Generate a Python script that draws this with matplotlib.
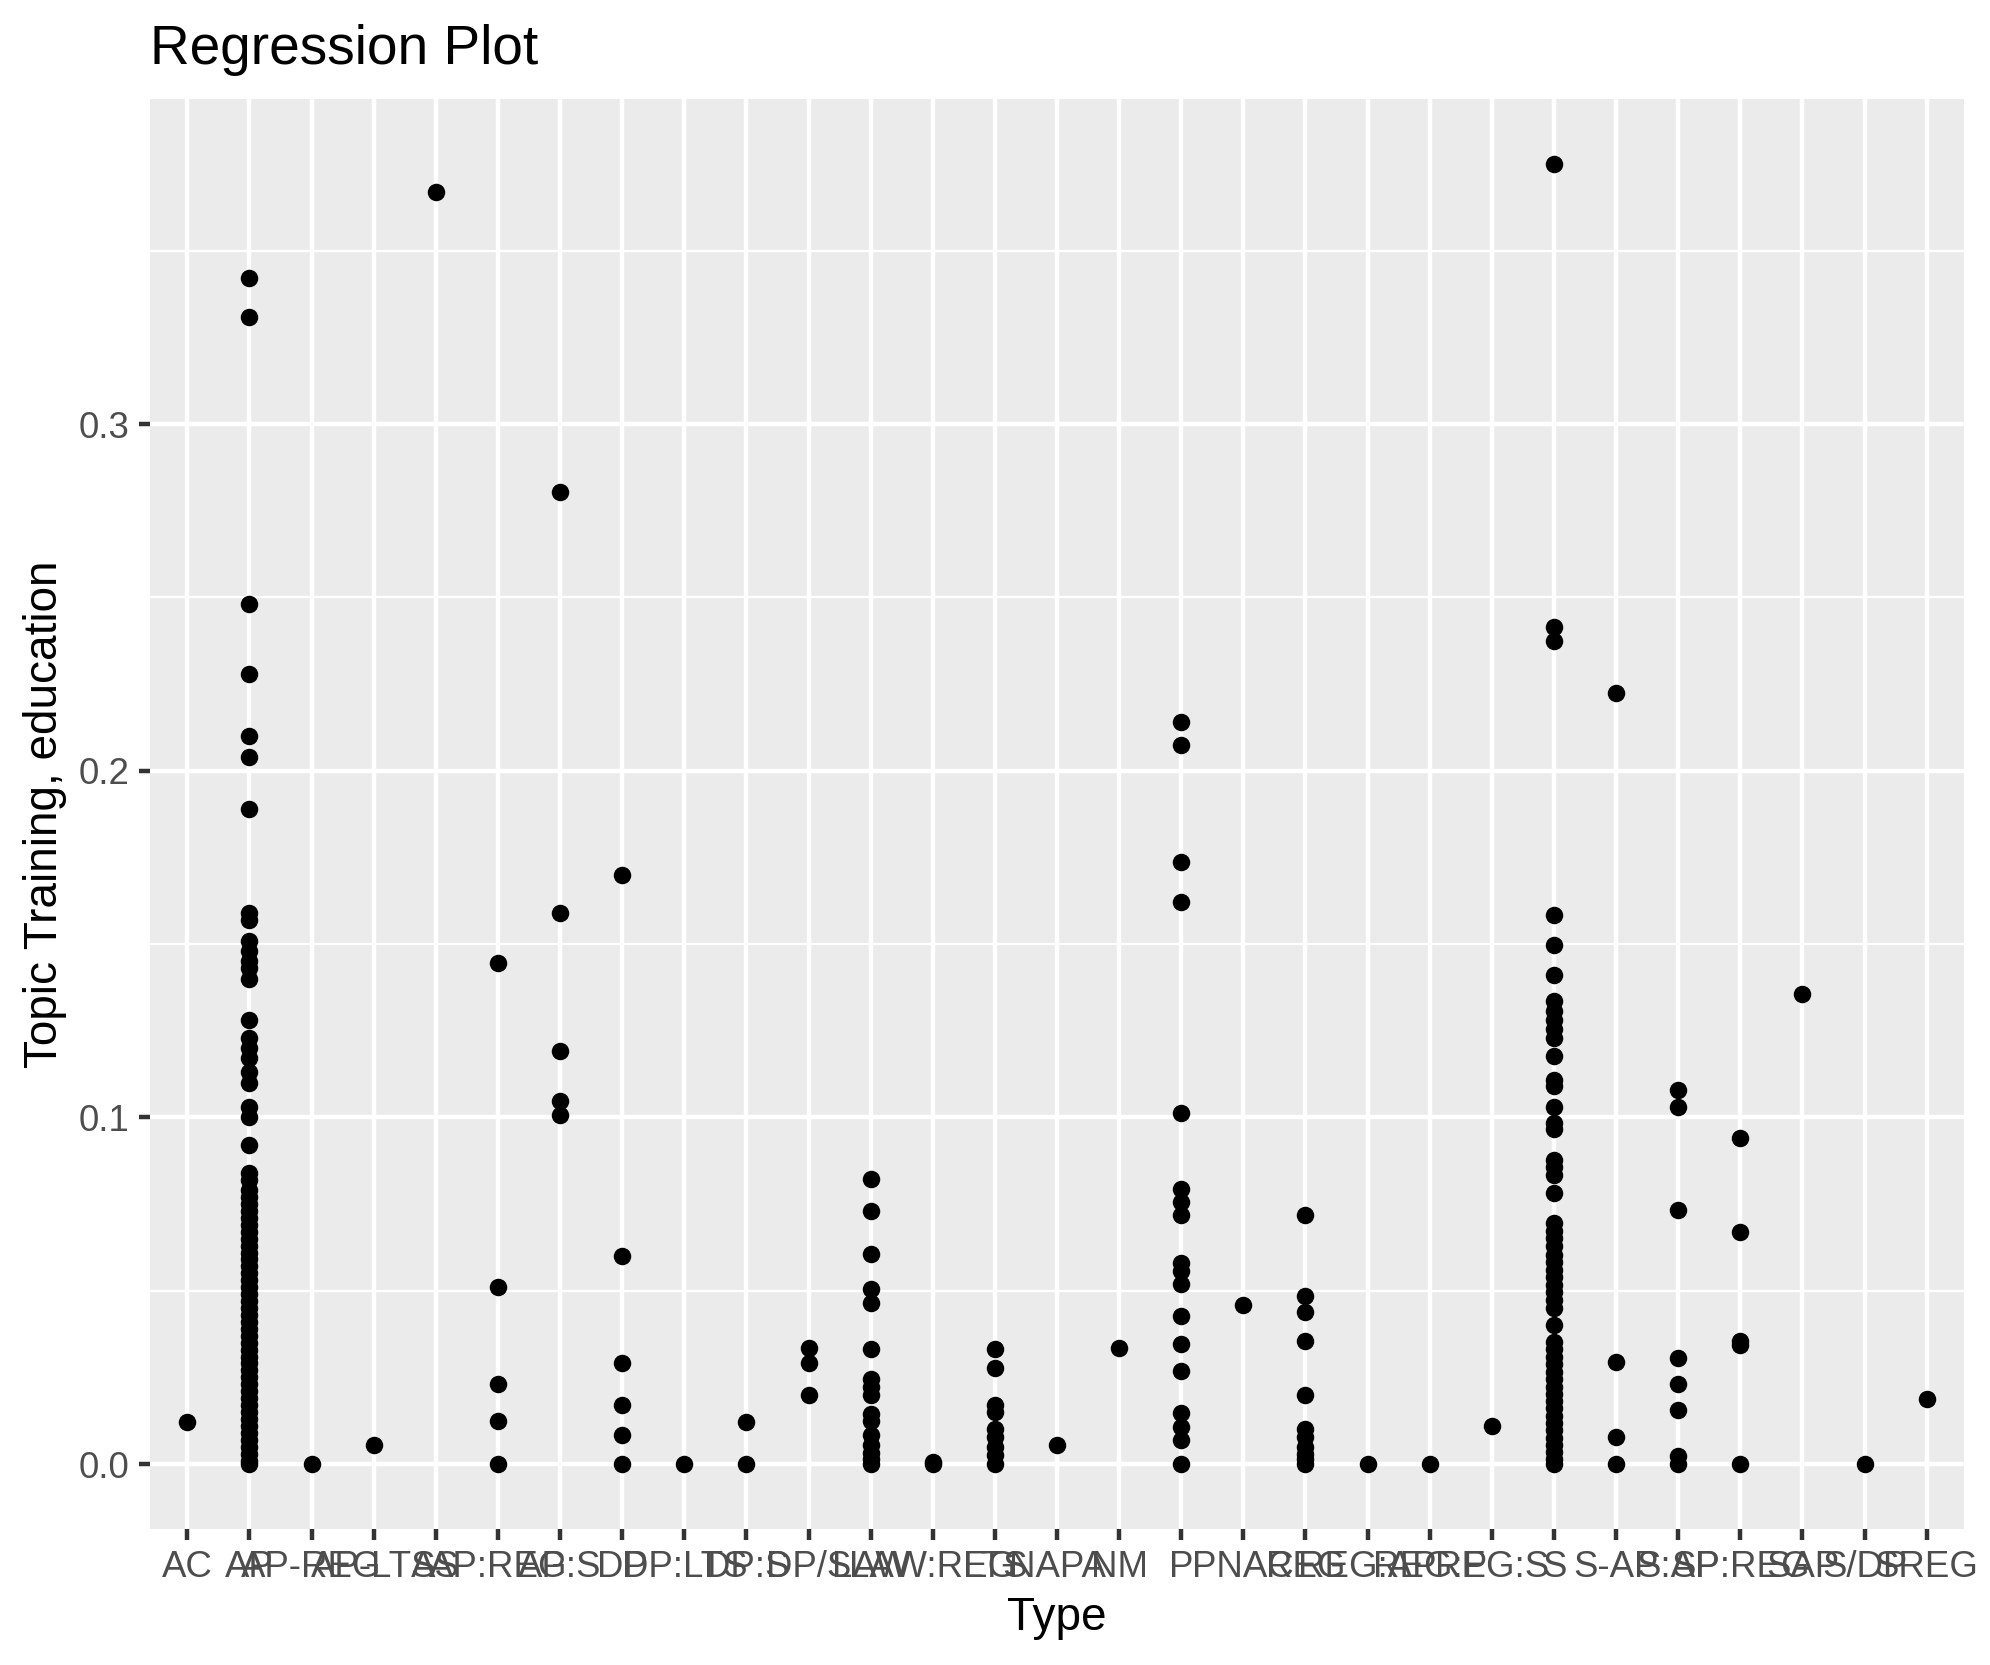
import matplotlib.pyplot as plt
from matplotlib.ticker import MultipleLocator

plt.rcParams['font.family'] = ['Liberation Sans', 'DejaVu Sans']

# factor levels of "Type", in plotting order
types = ["AC", "AP", "AP-REG", "AP-LTS", "AS", "AP:REG", "AP:S", "DP", "DP:LTS",
         "DP:S", "DP/S", "LAW", "LAW:REG", "LTS", "NAPA", "NM", "P", "PNAC", "REG",
         "REG:AP", "REG:P", "REG:S", "S", "S-AP", "S:AP", "SP:REG", "SAP", "S/DP", "SREG"]

# topic share per document
ac = [0.012]
ap = [0.342, 0.331, 0.248, 0.228, 0.210, 0.204, 0.189, 0.159, 0.157, 0.151, 0.148,
      0.145, 0.143, 0.140, 0.128, 0.123, 0.120, 0.117, 0.113, 0.110, 0.103, 0.100,
      0.092, 0.084, 0.082, 0.079, 0.077, 0.075, 0.073, 0.071, 0.069, 0.067, 0.065,
      0.063, 0.061, 0.059, 0.057, 0.055, 0.053, 0.051, 0.049, 0.047, 0.045, 0.043,
      0.041, 0.039, 0.037, 0.035, 0.033, 0.031, 0.029, 0.027, 0.025, 0.023, 0.021,
      0.019, 0.017, 0.015, 0.013, 0.011, 0.009, 0.007, 0.005, 0.003, 0.001, 0.0]
ap_reg = [0.0]
ap_lts = [0.0055]
as_ = [0.367]
ap_reg2 = [0.1445, 0.051, 0.023, 0.0124, 0.0]
ap_s = [0.2805, 0.159, 0.119, 0.1046, 0.1006]
dp = [0.170, 0.060, 0.029, 0.017, 0.0084, 0.0]
dp_lts = [0.0]
dp_s = [0.012, 0.0]
dp_slash_s = [0.0336, 0.029, 0.0198]
law = [0.0823, 0.073, 0.0607, 0.0505, 0.0465, 0.0333, 0.0245, 0.0223, 0.0198,
       0.0143, 0.0124, 0.0084, 0.0055, 0.0033, 0.0015, 0.0]
law_reg = [0.0007, 0.0]
lts = [0.0333, 0.0278, 0.017, 0.015, 0.010, 0.0077, 0.005, 0.0026, 0.0]
napa = [0.0055]
nm = [0.0336]
p = [0.214, 0.2074, 0.1737, 0.162, 0.1013, 0.0794, 0.0757, 0.0717, 0.058, 0.0556,
     0.052, 0.0428, 0.0347, 0.0267, 0.0146, 0.0106, 0.007, 0.0]
pnac = [0.046]
reg = [0.0717, 0.0486, 0.0439, 0.0355, 0.0198, 0.010, 0.0077, 0.005, 0.003, 0.0015, 0.0]
reg_ap = [0.0]
reg_p = [0.0]
reg_s = [0.011]
s = [0.375, 0.2414, 0.2374, 0.1584, 0.1496, 0.1412, 0.1335, 0.1306, 0.128, 0.1255,
     0.123, 0.1178, 0.1108, 0.109, 0.103, 0.0984, 0.0966, 0.0878, 0.0856, 0.0834,
     0.0783, 0.0695, 0.0672, 0.0651, 0.0628, 0.0604, 0.0583, 0.0561, 0.0538, 0.0517,
     0.0495, 0.0472, 0.0451, 0.0402, 0.0352, 0.0331, 0.0309, 0.0288, 0.0266, 0.0245,
     0.0223, 0.0201, 0.0182, 0.0161, 0.0139, 0.0118, 0.0097, 0.0076, 0.0055, 0.0034,
     0.0013, 0.0]
s_ap = [0.2224, 0.0293, 0.0077, 0.0]
s_ap2 = [0.1079, 0.1031, 0.0732, 0.0307, 0.023, 0.0157, 0.0022, 0.0]
sp_reg = [0.094, 0.067, 0.0355, 0.0344, 0.0]
sap = [0.1357]
s_dp = [0.0]
sreg = [0.0187]

values = [ac, ap, ap_reg, ap_lts, as_, ap_reg2, ap_s, dp, dp_lts, dp_s, dp_slash_s,
          law, law_reg, lts, napa, nm, p, pnac, reg, reg_ap, reg_p, reg_s, s, s_ap,
          s_ap2, sp_reg, sap, s_dp, sreg]

fig = plt.figure(figsize=(1990 / 300, 1665 / 300), dpi=300)
ax = fig.add_axes([150 / 1990, 1 - 1529 / 1665, 1814 / 1990, 1430 / 1665])
ax.set_facecolor('#EBEBEB')

for i, vals in enumerate(values):
    ax.plot([i + 1] * len(vals), vals, linestyle='none', marker='o',
            markersize=4.2, color='black', markeredgewidth=0)

ax.set_xlim(0.4, len(types) + 0.6)
ax.set_ylim(-0.01875, 0.39375)
ax.set_xticks(range(1, len(types) + 1))
ax.set_xticklabels(types)
ax.yaxis.set_minor_locator(MultipleLocator(0.05))
ax.set_yticks([0.0, 0.1, 0.2, 0.3])
ax.set_yticklabels(["0.0", "0.1", "0.2", "0.3"])

ax.grid(which='major', color='white', linewidth=1.07)
ax.grid(which='minor', axis='y', color='white', linewidth=0.53)
ax.set_axisbelow(True)
for sp in ax.spines.values():
    sp.set_visible(False)

ax.tick_params(which='major', length=2.75, width=1.07, color='#333333',
               labelsize=8.8, labelcolor='#4D4D4D', pad=2.2)
ax.tick_params(which='minor', length=0)

ax.set_xlabel("Type", fontsize=11, labelpad=2.75)
ax.set_ylabel("Topic Training, education", fontsize=11, labelpad=2.75)
fig.text(150 / 1990, 1 - 76 / 1665, "Regression Plot", fontsize=13.2,
         ha='left', va='bottom')

fig.savefig("out.png", dpi=300)
